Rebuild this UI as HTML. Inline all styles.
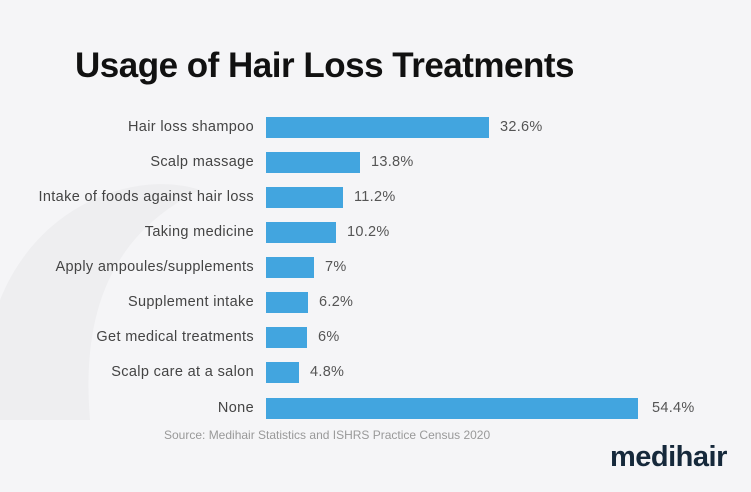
<!DOCTYPE html>
<html><head><meta charset="utf-8"><style>
body{margin:0;width:751px;height:492px;background:#f5f5f7;overflow:hidden;position:relative;font-family:"Liberation Sans",sans-serif;}
.t{position:absolute;left:75px;top:46px;font-size:35px;font-weight:bold;color:#111;letter-spacing:-0.5px;}
.lbl{position:absolute;right:497px;font-size:14.5px;letter-spacing:0.35px;color:#444;white-space:nowrap;line-height:20px;}
.bar{position:absolute;left:266px;height:21px;background:#42a5df;}
.v{position:absolute;font-size:14.5px;letter-spacing:0.3px;color:#555;line-height:20px;}
.src{position:absolute;left:164px;top:428px;font-size:12px;color:#999;}
.logo{position:absolute;left:610px;top:441px;font-size:29px;font-weight:bold;color:#16293b;letter-spacing:-0.5px;}
</style></head><body>
<svg style="position:absolute;left:0;top:0" width="751" height="492"><path d="M0,300 C40,200 140,170 200,190 C120,230 80,300 90,420 L0,420Z" fill="#eeeef0"/></svg>
<div class="t">Usage of Hair Loss Treatments</div>
<div class="lbl" style="top:117px">Hair loss shampoo</div><div class="bar" style="top:117px;width:223px"></div><div class="v" style="top:117px;left:500px">32.6%</div>
<div class="lbl" style="top:152px">Scalp massage</div><div class="bar" style="top:152px;width:94px"></div><div class="v" style="top:152px;left:371px">13.8%</div>
<div class="lbl" style="top:187px">Intake of foods against hair loss</div><div class="bar" style="top:187px;width:77px"></div><div class="v" style="top:187px;left:354px">11.2%</div>
<div class="lbl" style="top:222px">Taking medicine</div><div class="bar" style="top:222px;width:70px"></div><div class="v" style="top:222px;left:347px">10.2%</div>
<div class="lbl" style="top:257px">Apply ampoules/supplements</div><div class="bar" style="top:257px;width:48px"></div><div class="v" style="top:257px;left:325px">7%</div>
<div class="lbl" style="top:292px">Supplement intake</div><div class="bar" style="top:292px;width:42px"></div><div class="v" style="top:292px;left:319px">6.2%</div>
<div class="lbl" style="top:327px">Get medical treatments</div><div class="bar" style="top:327px;width:41px"></div><div class="v" style="top:327px;left:318px">6%</div>
<div class="lbl" style="top:362px">Scalp care at a salon</div><div class="bar" style="top:362px;width:33px"></div><div class="v" style="top:362px;left:310px">4.8%</div>
<div class="lbl" style="top:398px">None</div><div class="bar" style="top:398px;width:372px"></div><div class="v" style="top:398px;left:652px">54.4%</div>
<div class="src">Source: Medihair Statistics and ISHRS Practice Census 2020</div>
<div class="logo">medihair</div>
</body></html>
